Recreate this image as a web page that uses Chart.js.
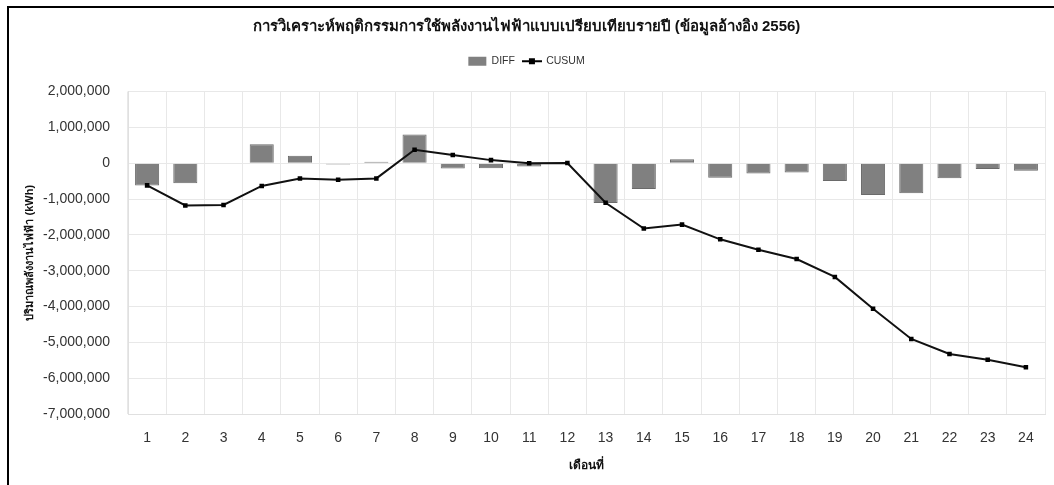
<!DOCTYPE html>
<html>
<head>
<meta charset="utf-8">
<title>CUSUM 2556</title>
<script src="https://cdn.jsdelivr.net/npm/chart.js@4.4.1/dist/chart.umd.min.js"></script>
<style>
  html, body { margin: 0; padding: 0; background: #fff; }
  #wrap { position: relative; width: 1054px; height: 485px; overflow: hidden; }
  #frame { position: absolute; left: 7px; top: 6px; width: 1200px; height: 600px;
           border-top: 2px solid #000; border-left: 2px solid #000; }
  #chart { position: absolute; left: 0; top: 0; }
</style>
</head>
<body>
<div id="wrap">
  <div id="frame"></div>
  <canvas id="chart" width="1054" height="485"></canvas>
</div>
<script>
'use strict';

// months 1..24
var months = ['1', '2', '3', '4', '5', '6', '7', '8', '9', '10', '11', '12',
  '13', '14', '15', '16', '17', '18', '19', '20', '21', '22', '23', '24'];

// monthly difference from baseline (kWh)
var diffValues = [-620000, -560000, 15000, 530000, 210000, -40000, 40000, 800000,
  -150000, -140000, -90000, 10000, -1110000, -720000, 110000, -410000,
  -290000, -260000, -500000, -890000, -840000, -420000, -160000, -210000];

// running total (kWh)
var cusumValues = [-620000, -1180000, -1165000, -635000, -425000, -465000, -425000, 375000,
  225000, 85000, -5000, 5000, -1105000, -1825000, -1715000, -2125000,
  -2415000, -2675000, -3175000, -4065000, -4905000, -5325000, -5485000, -5695000];

var titleText = 'การวิเคราะห์พฤติกรรมการใช้พลังงานไฟฟ้าแบบเปรียบเทียบรายปี (ข้อมูลอ้างอิง 2556)';
var yTitle = 'ปริมาณพลังงานไฟฟ้า (kWh)';
var xTitle = 'เดือนที่';

var fontFamily = '"Liberation Sans", Arial, "Noto Sans", sans-serif';

// little line-with-square icon for the CUSUM legend entry
function lineIcon() {
  var c = document.createElement('canvas');
  c.width = 20;
  c.height = 8;
  var g = c.getContext('2d');
  g.strokeStyle = '#000';
  g.lineWidth = 2;
  g.beginPath();
  g.moveTo(0, 4);
  g.lineTo(20, 4);
  g.stroke();
  g.fillStyle = '#000';
  g.fillRect(7, 1, 6, 6);
  return c;
}
var cusumIcon = lineIcon();

function numberFmt(v) {
  return v.toLocaleString('en-US');
}

// extra room under the legend before the plot starts
var legendGap = {
  id: 'legendGap',
  beforeInit: function (chart) {
    var legend = chart.legend;
    if (!legend) return;
    var fit = legend.fit;
    legend.fit = function () {
      fit.call(this);
      this.height += 15;
    };
  }
};

var ctx = document.getElementById('chart');

var chart = new Chart(ctx, {
  type: 'bar',
  data: {
    labels: months,
    datasets: [
      {
        type: 'bar',
        label: 'DIFF',
        data: diffValues,
        backgroundColor: '#808080',
        borderColor: '#6a6a6a',
        borderWidth: 1,
        barPercentage: 0.63,
        categoryPercentage: 1,
        order: 2
      },
      {
        type: 'line',
        label: 'CUSUM',
        data: cusumValues,
        borderColor: '#111',
        borderWidth: 2,
        backgroundColor: '#000',
        pointStyle: 'rect',
        pointRadius: 3.2,
        pointBorderWidth: 0,
        tension: 0,
        fill: false,
        order: 1
      }
    ]
  },
  plugins: [legendGap],
  options: {
    responsive: false,
    animation: false,
    layout: { padding: { left: 8, right: 9, top: 0, bottom: 8 } },
    plugins: {
      title: {
        display: true,
        text: titleText,
        color: '#111',
        font: { family: fontFamily, size: 15, weight: 'bold' },
        padding: { top: 18, bottom: 12 }
      },
      legend: {
        display: true,
        labels: {
          color: '#333',
          font: { family: fontFamily, size: 10.5 },
          boxWidth: 18,
          boxHeight: 9,
          padding: 8,
          usePointStyle: true,
          pointStyleWidth: 18,
          sort: function (a, b) { return a.datasetIndex - b.datasetIndex; },
          generateLabels: function (chart) {
            var items = Chart.defaults.plugins.legend.labels.generateLabels(chart);
            items.forEach(function (it) {
              if (it.text === 'CUSUM') {
                it.pointStyle = cusumIcon;
              } else {
                it.pointStyle = 'rect';
                it.lineWidth = 0;
              }
            });
            return items;
          }
        }
      },
      tooltip: { enabled: false }
    },
    scales: {
      x: {
        grid: { color: '#e8e8e8', drawTicks: false, offset: true },
        border: { color: '#e0e0e0' },
        ticks: { color: '#333', font: { family: fontFamily, size: 14 }, padding: 16, maxRotation: 0 },
        title: {
          display: true,
          text: xTitle,
          color: '#111',
          font: { family: fontFamily, size: 12, weight: 'bold' },
          padding: { top: 0, bottom: 4 }
        },
        afterFit: function (scale) { scale.height = 63; }
      },
      y: {
        min: -7000000,
        max: 2000000,
        grid: { color: '#e8e8e8', drawTicks: false },
        border: { color: '#e0e0e0' },
        ticks: {
          stepSize: 1000000,
          color: '#333',
          font: { family: fontFamily, size: 14 },
          padding: 18,
          callback: function (v) { return numberFmt(v); }
        },
        title: {
          display: true,
          text: yTitle,
          color: '#111',
          font: { family: fontFamily, size: 11, weight: 'bold' },
          padding: { top: 15, bottom: 0 }
        },
        afterFit: function (scale) { scale.width = 120; }
      }
    }
  }
});
</script>
</body>
</html>
